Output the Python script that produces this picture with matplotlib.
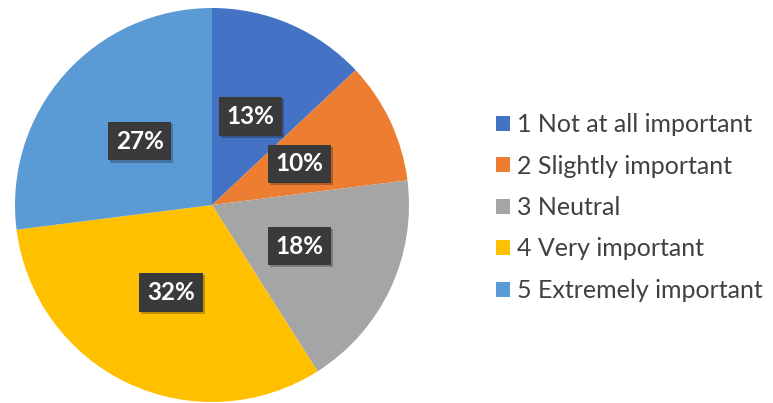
import matplotlib
matplotlib.use("Agg")
import matplotlib.pyplot as plt
import matplotlib.patches as mpatches
import matplotlib.patheffects as pe
import numpy as np

# Survey responses: importance rating distribution
categories = ["1 Not at all important", "2 Slightly important", "3 Neutral",
              "4 Very important", "5 Extremely important"]
shares = [13, 10, 18, 32, 27]
colors = ["#4472C4", "#ED7D31", "#A5A5A5", "#FFC000", "#5B9BD5"]

W, H = 773, 403
fig = plt.figure(figsize=(W / 100, H / 100), dpi=100)
fig.patch.set_facecolor("white")

# pie centred at (212, 205) px with radius ~197 px
cx, cy, r = 212, 205, 197
ax = fig.add_axes([(cx - r) / W, (H - cy - r) / H, 2 * r / W, 2 * r / H])
wedges, _ = ax.pie(shares, colors=colors, startangle=90, counterclock=False,
                   radius=1.0, wedgeprops=dict(linewidth=0))
ax.set_xlim(-1, 1)
ax.set_ylim(-1, 1)
ax.set_aspect("equal")
ax.set_axis_off()

# value labels in dark boxes, placed halfway along each wedge bisector
for w, val in zip(wedges, shares):
    ang = np.deg2rad((w.theta1 + w.theta2) / 2)
    x, y = 0.49 * np.cos(ang), 0.49 * np.sin(ang)
    t = ax.text(x, y, f"{val}%", ha="center", va="center",
                fontsize=17.5, fontweight="bold", family="Lato", color="white",
                bbox=dict(boxstyle="square,pad=0.32", facecolor="#3A3A3A",
                          edgecolor="none"))
    t.get_bbox_patch().set_path_effects(
        [pe.SimplePatchShadow(offset=(1.5, -1.5), shadow_rgbFace="black",
                              alpha=0.25), pe.Normal()])

handles = [mpatches.Patch(facecolor=c, edgecolor="none") for c in colors]
leg = fig.legend(handles, categories, loc="upper left",
                 bbox_to_anchor=(496 / W, 1 - 113 / H),
                 frameon=False, prop={"family": "Lato", "size": 18},
                 handlelength=0.56, handleheight=0.56, handletextpad=0.28,
                 labelspacing=0.74, borderaxespad=0, borderpad=0)
for t in leg.get_texts():
    t.set_color("#404040")

fig.savefig("out.png", dpi=100, facecolor="white")
